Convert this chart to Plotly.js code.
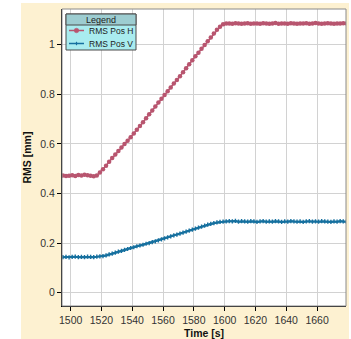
<!DOCTYPE html>
<html>
<head>
<meta charset="utf-8">
<script src="https://cdn.plot.ly/plotly-3.0.1.min.js"></script>
<style>html,body{margin:0;padding:0;background:#fff;}#chart{width:351px;height:339px;}</style>
</head>
<body>
<div id="chart"></div>
<script>
// ---- data ----
var seriesNames = ["RMS Pos H", "RMS Pos V"];
var time = [1495,1497,1499,1501,1503,1505,1507,1509,1511,1513,1515,1517,
  1519,1521,1523,1525,1527,1529,1531,1533,1535,1537,1539,1541,1543,1545,1547,1549,1551,1553,1555,1557,1559,
  1561,1563,1565,1567,1569,1571,1573,1575,1577,1579,1581,1583,1585,1587,1589,1591,1593,1595,1597,1599,1601,
  1603,1605,1607,1609,1611,1613,1615,1617,1619,1621,1623,1625,1627,1629,1631,1633,1635,1637,1639,1641,
  1643,1645,1647,1649,1651,1653,1655,1657,1659,1661,1663,1665,1667,1669,1671,1673,1675,1677,1679];
var rmsPosH = [0.472,0.470,0.471,0.473,0.470,0.474,0.472,0.475,0.473,0.471,0.469,0.472,
  0.484,0.498,0.512,0.528,0.543,0.557,0.571,0.585,0.599,0.613,0.627,0.642,0.657,0.672,0.687,0.703,0.719,0.735,0.751,0.767,0.782,
  0.797,0.812,0.827,0.843,0.858,0.873,0.889,0.905,0.921,0.937,0.953,0.968,0.984,0.999,1.014,1.029,1.045,1.060,1.072,1.082,1.086,
  1.086,1.085,1.087,1.086,1.084,1.086,1.087,1.085,1.086,1.086,1.085,1.087,1.086,1.084,1.086,1.088,1.085,1.086,1.086,1.085,
  1.087,1.086,1.085,1.086,1.086,1.087,1.085,1.086,1.088,1.086,1.085,1.086,1.087,1.086,1.085,1.086,1.086,1.087,1.086];
var rmsPosV = [0.143,0.144,0.142,0.144,0.145,0.143,0.144,0.143,0.145,0.144,0.143,0.145,
  0.146,0.147,0.150,0.154,0.157,0.161,0.165,0.168,0.172,0.176,0.180,0.183,0.187,0.190,0.193,0.197,0.200,0.204,0.207,0.211,0.215,
  0.219,0.223,0.227,0.231,0.234,0.238,0.242,0.246,0.250,0.254,0.258,0.262,0.266,0.270,0.274,0.277,0.280,0.283,0.285,0.286,0.287,
  0.288,0.287,0.289,0.286,0.288,0.287,0.286,0.288,0.287,0.285,0.287,0.288,0.286,0.287,0.286,0.288,0.287,0.285,0.287,0.286,
  0.288,0.287,0.286,0.287,0.285,0.287,0.288,0.286,0.287,0.286,0.288,0.287,0.286,0.285,0.287,0.286,0.288,0.287,0.286];
var xTicks = [1500,1520,1540,1560,1580,1600,1620,1640,1660];
var yTicks = [0,0.2,0.4,0.6,0.8,1];
var yTickLabels = ["0","0.2","0.4","0.6","0.8","1"];
var legendTitle = "Legend";
var xTitle = "Time [s]";
var yTitle = "RMS [mm]";

// ---- styling ----
var colH = "#b8556f", colV = "#16709f";
var W = 351, H = 339, mL = 62, mR = 5, mT = 9, mB = 33;
var pw = W - mL - mR, ph = H - mT - mB;
function px(x){ return (x - mL) / pw; }
function py(y){ return 1 - (y - mT) / ph; }

var font = "Liberation Sans, Arial, sans-serif";

var traces = [
  {x: time, y: rmsPosH, name: seriesNames[0], type: "scatter", mode: "lines+markers",
   line: {color: colH, width: 1.6}, marker: {color: colH, size: 4.5, symbol: "circle"}},
  {x: time, y: rmsPosV, name: seriesNames[1], type: "scatter", mode: "lines+markers",
   line: {color: colV, width: 2}, marker: {color: colV, size: 3.5, symbol: "cross"}}
];

var shapes = [
  // white strips outside the cream panel
  {type:"rect", xref:"paper", yref:"paper", x0:px(0), x1:px(21), y0:py(0), y1:py(H), fillcolor:"#ffffff", line:{width:0}, layer:"below"},
  {type:"rect", xref:"paper", yref:"paper", x0:px(0), x1:px(W), y0:py(0), y1:py(3), fillcolor:"#ffffff", line:{width:0}, layer:"below"},
  {type:"rect", xref:"paper", yref:"paper", x0:px(349), x1:px(W), y0:py(0), y1:py(H), fillcolor:"#ffffff", line:{width:0}, layer:"below"},
  // plot frame
  {type:"rect", xref:"paper", yref:"paper", x0:0, x1:1, y0:0, y1:1, line:{color:"#8a8a8a", width:1}, fillcolor:"rgba(0,0,0,0)", layer:"above"},
  // legend body
  {type:"rect", xref:"paper", yref:"paper", x0:px(66), x1:px(136), y0:py(50), y1:py(14), fillcolor:"#a9ecef", line:{color:"#4a4a4a", width:1}, layer:"above"},
  // legend header
  {type:"rect", xref:"paper", yref:"paper", x0:px(66), x1:px(136), y0:py(25), y1:py(14), fillcolor:"#9dcdd1", line:{color:"#4a4a4a", width:1}, layer:"above"},
  // legend symbol H
  {type:"line", xref:"paper", yref:"paper", x0:px(69), x1:px(84), y0:py(30.5), y1:py(30.5), line:{color:colH, width:1.5}, layer:"above"},
  {type:"circle", xref:"paper", yref:"paper", x0:px(74.2), x1:px(78.8), y0:py(32.8), y1:py(28.2), fillcolor:colH, line:{color:colH, width:0.5}, layer:"above"},
  // legend symbol V
  {type:"line", xref:"paper", yref:"paper", x0:px(69), x1:px(84), y0:py(43.5), y1:py(43.5), line:{color:colV, width:1.5}, layer:"above"},
  {type:"line", xref:"paper", yref:"paper", x0:px(76.5), x1:px(76.5), y0:py(41.8), y1:py(45.2), line:{color:colV, width:1.2}, layer:"above"}
];

var annotations = [
  {xref:"paper", yref:"paper", x:px(101), y:py(19.8), text:legendTitle, showarrow:false, xanchor:"center", yanchor:"middle", font:{family:font, size:9, color:"#222"}, borderpad:0},
  {xref:"paper", yref:"paper", x:px(87.5), y:py(30.8), text:seriesNames[0], showarrow:false, xanchor:"left", yanchor:"middle", font:{family:font, size:8.5, color:"#222"}, borderpad:0},
  {xref:"paper", yref:"paper", x:px(87.5), y:py(43.8), text:seriesNames[1], showarrow:false, xanchor:"left", yanchor:"middle", font:{family:font, size:8.5, color:"#222"}, borderpad:0},
  {xref:"paper", yref:"paper", x:0.5, y:py(332.5), text:xTitle, showarrow:false, xanchor:"center", yanchor:"middle", font:{family:font, size:10.5, color:"#111", weight:"bold"}, borderpad:0}
];

var layout = {
  width: W, height: H,
  margin: {l: mL, r: mR, t: mT, b: mB, pad: 0},
  paper_bgcolor: "#fdf1d1",
  plot_bgcolor: "#ffffff",
  showlegend: false,
  font: {family: font, size: 10.5, color: "#333"},
  xaxis: {
    range: [1494.4, 1678.8], tickvals: xTicks, ticktext: xTicks.map(String),
    showgrid: true, gridcolor: "#d2d2d2", gridwidth: 1, zeroline: false,
    showline: true, linecolor: "#000", linewidth: 1,
    ticks: "outside", ticklen: 4, tickcolor: "#000",
    tickfont: {family: font, size: 10.5, color: "#333"}
  },
  yaxis: {
    range: [-0.054, 1.144], tickvals: yTicks, ticktext: yTickLabels,
    showgrid: true, gridcolor: "#d2d2d2", gridwidth: 1, zeroline: false,
    showline: true, linecolor: "#000", linewidth: 1,
    ticks: "outside", ticklen: 4, tickcolor: "#000",
    tickfont: {family: font, size: 10.5, color: "#333"},
    title: {text: yTitle, font: {family: font, size: 10.5, color: "#111", weight: "bold"}, standoff: 6}
  },
  shapes: shapes,
  annotations: annotations
};

Plotly.newPlot("chart", traces, layout, {displayModeBar: false, staticPlot: true});
</script>
</body>
</html>
